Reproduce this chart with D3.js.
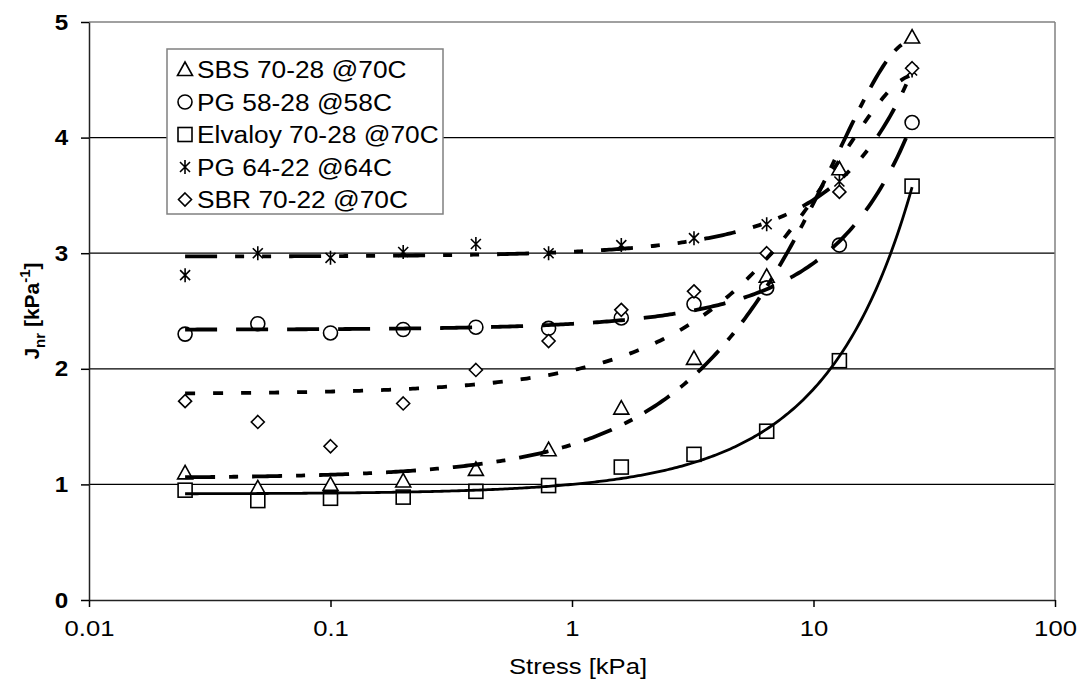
<!DOCTYPE html>
<html><head><meta charset="utf-8">
<script src="https://cdn.jsdelivr.net/npm/d3@7/dist/d3.min.js"></script>
<style>body{margin:0;background:#fff}svg{display:block;font-family:"Liberation Sans",Arial,sans-serif}</style>
</head><body><svg id="c" width="1078" height="679"></svg>
<script>
const stress = [0.025,0.05,0.1,0.2,0.4,0.8,1.6,3.2,6.4,12.8,25.6];
const sbs7028 = [1.10,0.97,1.00,1.03,1.13,1.30,1.66,2.09,2.80,3.73,4.87];
const pg5828 = [2.30,2.39,2.31,2.34,2.36,2.35,2.44,2.56,2.70,3.07,4.13];
const elvaloy7028 = [0.95,0.86,0.88,0.89,0.94,0.99,1.15,1.26,1.46,2.07,3.58];
const pg6422 = [2.81,3.00,2.96,3.01,3.08,3.00,3.07,3.13,3.25,3.62,4.58];
const sbr7022 = [1.72,1.54,1.33,1.70,1.99,2.24,2.51,2.67,3.00,3.53,4.60];
const seriesNames = ["SBS 70-28 @70C","PG 58-28 @58C","Elvaloy 70-28 @70C","PG 64-22 @64C","SBR 70-22 @70C"];
const xTicks = [0.01,0.1,1,10,100];
const yTicks = [0,1,2,3,4,5];

const series = [
  {name:seriesNames[0], y:sbs7028, marker:"triangle", dash:"30,14,9,14"},
  {name:seriesNames[1], y:pg5828, marker:"circle", dash:"32,19"},
  {name:seriesNames[2], y:elvaloy7028, marker:"square", dash:null},
  {name:seriesNames[3], y:pg6422, marker:"asterisk", dash:"32,18,9,18,9,18"},
  {name:seriesNames[4], y:sbr7022, marker:"diamond", dash:"10,18"}
];

const svg = d3.select("#c");
const L=89,R=1055,T=22,B=600;
const FONT = "Liberation Sans, Arial, sans-serif";
const SX = 1.14; // horizontal stretch of the original (non-uniformly scaled) chart text
const x = d3.scaleLog().domain([0.01,100]).range([L,R]);
const y = d3.scaleLinear().domain([0,5]).range([B,T]);

// gridlines
svg.append("g").selectAll("line").data(yTicks.filter(v=>v>0&&v<5)).join("line")
  .attr("x1",L).attr("x2",R).attr("y1",d=>y(d)).attr("y2",d=>y(d))
  .attr("stroke","#000").attr("stroke-width",1.2);
// plot border top/right
svg.append("line").attr("x1",L).attr("x2",R).attr("y1",T).attr("y2",T).attr("stroke","#808080").attr("stroke-width",1.5);
svg.append("line").attr("x1",R).attr("x2",R).attr("y1",T).attr("y2",B).attr("stroke","#808080").attr("stroke-width",1.5);

// axes
const xAxis = d3.axisBottom(x).tickValues(xTicks).tickFormat(d=>String(d)).tickSizeInner(7).tickSizeOuter(0).tickPadding(13);
const gx = svg.append("g").attr("transform",`translate(0,${B})`).call(xAxis);
gx.select(".domain").attr("stroke","#222").attr("stroke-width",1.5);
gx.selectAll(".tick line").attr("stroke","#000").attr("stroke-width",1.5);
gx.selectAll("text").attr("font-size",22.5).attr("fill","#000").attr("font-family",FONT)
  .attr("transform",`scale(${SX},1)`);

const yAxis = d3.axisLeft(y).tickValues(yTicks).tickFormat(d3.format("d")).tickSizeInner(8).tickSizeOuter(0).tickPadding(11);
const gy = svg.append("g").attr("transform",`translate(${L},0)`).call(yAxis);
gy.select(".domain").attr("stroke","#222").attr("stroke-width",1.5);
gy.selectAll(".tick line").attr("stroke","#000").attr("stroke-width",1.5);
gy.selectAll("text").attr("font-size",22).attr("font-weight","bold").attr("fill","#000").attr("font-family",FONT)
  .attr("transform",`scale(1.1,1)`);

// axis titles
svg.append("text").attr("transform",`translate(578,674) scale(${SX},1)`).attr("text-anchor","middle")
  .attr("font-size",22.5).text("Stress [kPa]");
const yt = svg.append("text").attr("transform",`translate(39,${(T+B)/2}) rotate(-90)`)
  .attr("text-anchor","middle").attr("font-size",21).attr("font-weight","bold");
yt.append("tspan").text("J");
yt.append("tspan").attr("dy",6).attr("font-size",15).text("nr");
yt.append("tspan").attr("dy",-6).text(" [kPa");
yt.append("tspan").attr("dy",-9).attr("font-size",15).text("-1");
yt.append("tspan").attr("dy",9).text("]");

// marker drawing
function drawMarker(g, type){
  const s = 7;
  if(type==="triangle") g.append("path").attr("d",`M0,${-s-0.5}L${s+0.5},${s-1}L${-s-0.5},${s-1}Z`);
  else if(type==="circle") g.append("circle").attr("r",s);
  else if(type==="square") g.append("rect").attr("x",-s).attr("y",-s).attr("width",2*s).attr("height",2*s);
  else if(type==="diamond") g.append("path").attr("d",`M0,${-6.5}L6.5,0L0,6.5L-6.5,0Z`);
  else if(type==="asterisk") g.append("path").attr("d",`M-5,-5L5,5M5,-5L-5,5M0,-7L0,7`);
  g.selectAll("*").attr("fill","#fff").attr("stroke","#000").attr("stroke-width",1.6);
}

// markers
series.forEach(s=>{
  svg.append("g").selectAll("g").data(stress.map((v,i)=>[v,s.y[i]])).join("g")
    .attr("transform",d=>`translate(${x(d[0])},${y(d[1])})`)
    .each(function(){drawMarker(d3.select(this), s.marker);});
});

// quadratic least-squares trendline (as in the original spreadsheet)
function quadFit(xs, ys){
  let S=[0,0,0,0,0], Ty=[0,0,0];
  xs.forEach((xv,i)=>{for(let k=0;k<5;k++)S[k]+=Math.pow(xv,k);for(let k=0;k<3;k++)Ty[k]+=ys[i]*Math.pow(xv,k);});
  const A=[[S[0],S[1],S[2],Ty[0]],[S[1],S[2],S[3],Ty[1]],[S[2],S[3],S[4],Ty[2]]];
  for(let i=0;i<3;i++){for(let j=i+1;j<3;j++){const f=A[j][i]/A[i][i];for(let k=i;k<4;k++)A[j][k]-=f*A[i][k];}}
  const c=[0,0,0];
  for(let i=2;i>=0;i--){let v=A[i][3];for(let k=i+1;k<3;k++)v-=A[i][k]*c[k];c[i]=v/A[i][i];}
  return xv=>c[0]+c[1]*xv+c[2]*xv*xv;
}
const line = d3.line().x(d=>x(d[0])).y(d=>y(d[1]));
const xmin = d3.min(stress), xmax = d3.max(stress);
const samples = d3.range(0,301).map(i=>xmin*Math.pow(xmax/xmin,i/300));
series.forEach(s=>{
  const f = quadFit(stress, s.y);
  svg.append("path").datum(samples.map(v=>[v,f(v)]))
    .attr("d",line).attr("fill","none").attr("stroke","#000")
    .attr("stroke-width",s.dash?3.8:2.8).attr("stroke-dasharray",s.dash);
});

// legend
const lg = svg.append("g");
lg.append("rect").attr("x",167).attr("y",49).attr("width",276).attr("height",165)
  .attr("fill","#fff").attr("stroke","#808080").attr("stroke-width",1.5);
series.forEach((s,i)=>{
  const cy = 69.5 + i*32.5;
  const g = lg.append("g").attr("transform",`translate(185,${cy})`);
  drawMarker(g, s.marker);
  lg.append("text").attr("transform",`translate(197,${cy+8.5}) scale(1.12,1)`).attr("font-size",23.5).text(s.name);
});
</script></body></html>
